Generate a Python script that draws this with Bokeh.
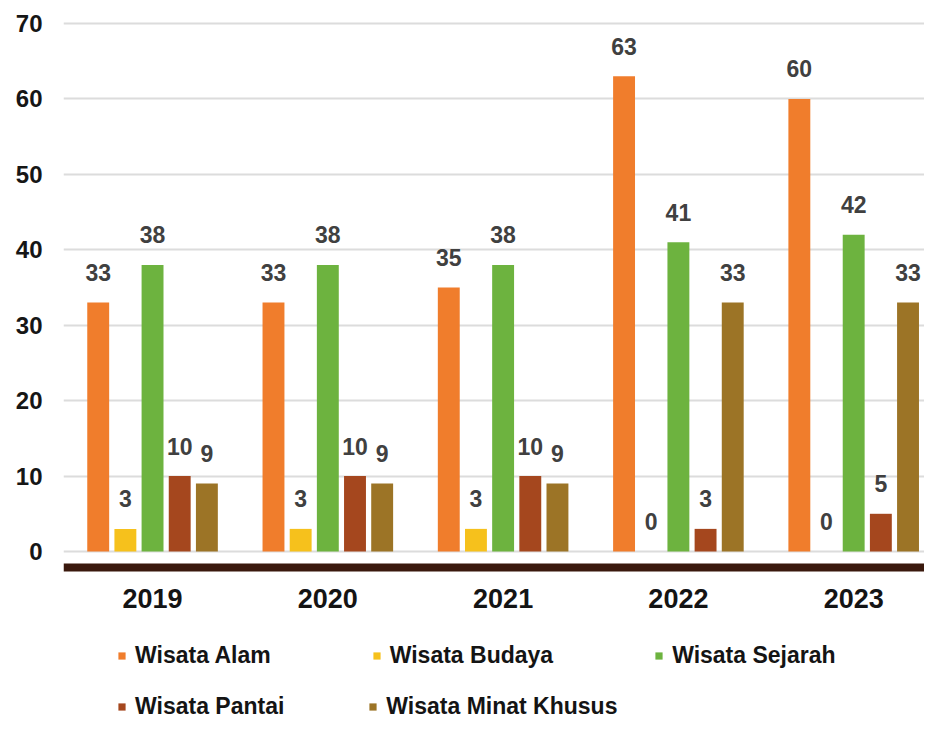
import numpy as np
from bokeh.plotting import figure
from bokeh.models import (ColumnDataSource, Range1d, FixedTicker, Legend, LegendItem)
from bokeh.core.properties import value
from bokeh.embed import file_html
from bokeh.resources import INLINE

years = ["2019", "2020", "2021", "2022", "2023"]
series_names = ["Wisata Alam", "Wisata Budaya", "Wisata Sejarah", "Wisata Pantai", "Wisata Minat Khusus"]
alam = [33, 33, 35, 63, 60]
budaya = [3, 3, 3, 0, 0]
sejarah = [38, 38, 38, 41, 42]
pantai = [10, 10, 10, 3, 5]
minat_khusus = [9, 9, 9, 33, 33]
y_ticks = [0, 10, 20, 30, 40, 50, 60, 70]

series_values = [alam, budaya, sejarah, pantai, minat_khusus]
colors = ["#F07D2C", "#F6C11C", "#6DB33F", "#A5471E", "#9C7426"]
offsets = [-0.31, -0.155, 0.0, 0.155, 0.31]

FONT = "Liberation Sans"

p = figure(width=924, height=718, output_backend="svg", toolbar_location=None,
           x_range=Range1d(-0.508, 4.404), y_range=Range1d(-22.14, 71.46),
           min_border_left=63, min_border_right=0, min_border_top=12, min_border_bottom=0)
p.outline_line_color = None
p.background_fill_color = "white"
p.border_fill_color = "white"

idx = np.arange(len(years))
renderers = []
for name, vals, col, off in zip(series_names, series_values, colors, offsets):
    src = ColumnDataSource(dict(x=idx + off, top=vals, lab=[str(v) for v in vals]))
    r = p.vbar(x="x", top="top", bottom=0, width=0.125, source=src,
               fill_color=col, line_color=None)
    renderers.append(r)
    p.text(x="x", y="top", text="lab", source=src, text_align="center",
           text_baseline="alphabetic", y_offset=-30,
           text_font=value(FONT), text_font_style="bold", text_font_size="23px",
           text_color="#404040")

# x axis: thick dark baseline drawn just below zero
p.xaxis.fixed_location = -2.12
p.xaxis.ticker = FixedTicker(ticks=list(idx))
p.xaxis.major_label_overrides = {int(i): y for i, y in zip(idx, years)}
p.xaxis.axis_line_color = "#3a190d"
p.xaxis.axis_line_width = 8
p.xaxis.major_tick_line_color = None
p.xaxis.minor_tick_line_color = None
p.xaxis.major_label_text_font = FONT
p.xaxis.major_label_text_font_style = "bold"
p.xaxis.major_label_text_font_size = "27px"
p.xaxis.major_label_text_color = "#141414"
p.xaxis.major_label_standoff = 16

p.yaxis.ticker = FixedTicker(ticks=y_ticks)
p.yaxis.axis_line_color = None
p.yaxis.major_tick_line_color = None
p.yaxis.minor_tick_line_color = None
p.yaxis.major_label_text_font = FONT
p.yaxis.major_label_text_font_style = "bold"
p.yaxis.major_label_text_font_size = "24px"
p.yaxis.major_label_text_color = "#161616"
p.yaxis.major_label_standoff = 15

p.xgrid.grid_line_color = None
p.ygrid.ticker = FixedTicker(ticks=y_ticks)
p.ygrid.grid_line_color = "#dcdcdc"
p.ygrid.grid_line_width = 2

def make_legend(items, loc, spacing):
    lg = Legend(items=items, location=loc, orientation="horizontal",
                padding=0, margin=0, spacing=spacing, border_line_color=None,
                background_fill_alpha=0, glyph_width=9, glyph_height=9,
                label_standoff=9, label_height=20,
                label_text_font=FONT, label_text_font_style="bold",
                label_text_font_size="23px", label_text_color="#141414")
    p.add_layout(lg)
    return lg

make_legend([LegendItem(label=series_names[0], renderers=[renderers[0]]),
             LegendItem(label=series_names[1], renderers=[renderers[1]]),
             LegendItem(label=series_names[2], renderers=[renderers[2]])], (54, 49), 101)
make_legend([LegendItem(label=series_names[3], renderers=[renderers[3]]),
             LegendItem(label=series_names[4], renderers=[renderers[4]])], (54, -2), 84)

open("out.html", "w").write(file_html(p, INLINE))
